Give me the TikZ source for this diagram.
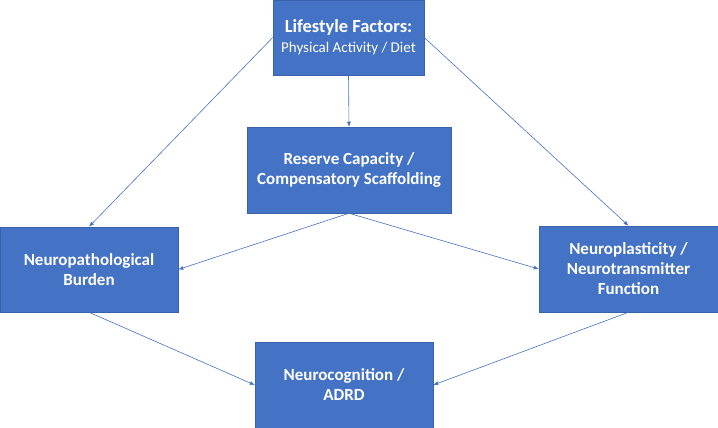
\documentclass[tikz,border=0pt]{standalone}
\usepackage{fontspec}
\setmainfont{Carlito}
\usepackage{tikz}
\usetikzlibrary{arrows.meta}
\definecolor{boxblue}{RGB}{68,114,196}
\definecolor{boxedge}{RGB}{58,98,170}
\tikzset{
  block/.style={shape=rectangle,draw=boxedge,fill=boxblue,line width=0.5pt,text=white,align=center,inner sep=2pt,
    font=\fontsize{17}{20}\selectfont\bfseries},
  link/.style={draw=boxblue,line width=0.6pt,-{Latex[length=5pt,width=4pt]}}
}
\newcommand{\blockbox}[6]{\node[block,minimum width=#4pt,minimum height=#5pt] (#1) at ( #2 , #3 ) {#6};}
\begin{document}
\begin{tikzpicture}[x=1pt,y=-1pt]
                \useasboundingbox (0,0) rectangle (718,428);
                % top row
                \blockbox{life}{348.5}{37.5}{151}{75}{{\fontsize{18.5}{20}\selectfont Lifestyle Factors:}\\{\fontsize{15}{20}\selectfont\mdseries Physical Activity / Diet}}
                % middle row
                \blockbox{reserve}{349}{170}{204}{86}{Reserve Capacity /\\Compensatory Scaffolding}
                \blockbox{burden}{89}{269.5}{178}{85}{Neuropathological\\Burden}
                \blockbox{plastic}{628.5}{269}{179}{86}{Neuroplasticity /\\Neurotransmitter\\Function}
                % bottom row
                \blockbox{cogn}{344}{385}{178}{86}{Neurocognition /\\ADRD}
                % arrows
                \draw[link] (life.west) -- (burden.north);
                \draw[link] (life.east) -- (plastic.north);
                \draw[link] (life.south) -- (reserve.north);
                \draw[link] (reserve.south) -- (burden.east);
                \draw[link] (reserve.south) -- (plastic.west);
                \draw[link] (burden.south) -- (cogn.west);
                \draw[link] (plastic.south) -- (cogn.east);
            \end{tikzpicture}
\end{document}
